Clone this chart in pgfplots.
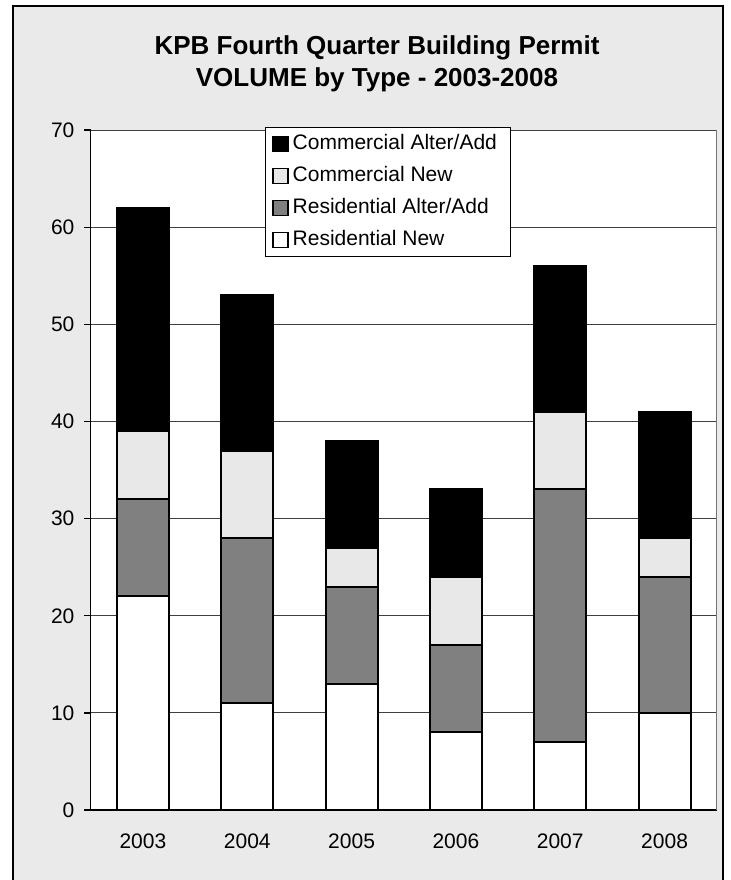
\documentclass[border=0pt]{standalone}
\usepackage{pgfplots}
\pgfplotsset{compat=1.18}
\usepackage{fontspec}
\setmainfont{Liberation Sans}

\definecolor{bggray}{HTML}{EAEAEA}
\definecolor{resalt}{HTML}{808080}
\definecolor{comnew}{HTML}{E8E8E8}

\begin{document}
\begin{tikzpicture}[x=0.5pt,y=0.5pt]
\useasboundingbox (0,0) rectangle (731,880);
% chart frame
\draw[fill=bggray, line width=1pt] (13,874) rectangle (723,-10);
\node[anchor=base, font=\bfseries\fontsize{13}{15}\selectfont] at (377,825) {KPB Fourth Quarter Building Permit};
\node[anchor=base, font=\bfseries\fontsize{13}{15}\selectfont] at (377,793) {VOLUME by Type - 2003-2008};

\begin{axis}[
  at={(87,72)}, anchor=south west,
  scale only axis, width=313pt, height=340pt,
  ybar stacked, bar width=26pt,
  xmin=-0.5, xmax=5.5, ymin=0, ymax=70,
  axis x line*=bottom, axis y line*=left,
  axis line style={-, black, line width=0.6pt},
  axis background/.style={fill=white},
  xtick={0,...,5},
  xticklabels={2003,2004,2005,2006,2007,2008},
  major x tick style={draw=none},
  xticklabel style={anchor=base, yshift=-19pt},
  extra x ticks={-0.5,0.5,1.5,2.5,3.5,4.5,5.5},
  extra x tick labels={},
  extra x tick style={major tick length=3.5pt, tick align=outside, grid=none, tick style={black, line width=0.6pt}},
  ytick={0,10,...,70},
  ytick align=outside, major tick length=3.5pt,
  y tick style={black, line width=0.6pt},
  yticklabel style={inner xsep=0pt, xshift=-4.5pt},
  ymajorgrids, grid style={black!75, line width=0.5pt},
  tick label style={font=\fontsize{10.5}{12.6}\selectfont},
  /pgf/number format/assume math mode=true,
  reverse legend,
  legend cell align=left,
  legend style={at={(0.279,1.0044)}, anchor=north west, draw=black, line width=0.5pt,
    fill=white, font=\fontsize{10.5}{12.6}\selectfont, inner sep=3pt,
    row sep=5.5pt, column sep=2pt,
    nodes={inner sep=0pt, text height=8pt, text depth=2.5pt}},
  legend image code/.code={\draw[#1, line width=0.8pt] (0pt,-3.8pt) rectangle (7.6pt,3.8pt);},
  every axis plot/.append style={draw=black, line width=1pt},
]
\addplot[fill=white] coordinates {(0,22) (1,11) (2,13) (3,8) (4,7) (5,10)};
\addplot[fill=resalt] coordinates {(0,10) (1,17) (2,10) (3,9) (4,26) (5,14)};
\addplot[fill=comnew] coordinates {(0,7) (1,9) (2,4) (3,7) (4,8) (5,4)};
\addplot[fill=black] coordinates {(0,23) (1,16) (2,11) (3,9) (4,15) (5,13)};
\legend{Residential New, Residential Alter/Add, Commercial New, Commercial Alter/Add\hspace*{4pt}}
\draw[black!55, line width=0.6pt] (rel axis cs:1,0) -- (rel axis cs:1,1);
\end{axis}
\end{tikzpicture}
\end{document}
